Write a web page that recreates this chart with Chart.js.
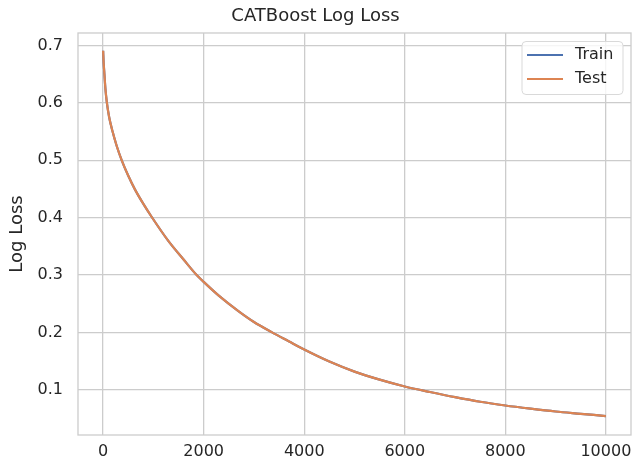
<!DOCTYPE html>
<html>
<head>
<meta charset="utf-8">
<script src="https://cdn.jsdelivr.net/npm/chart.js@4.4.1/dist/chart.umd.min.js"></script>
<style>
  body { margin: 0; background: #ffffff; }
  #wrap { width: 632px; height: 463px; position: relative; }
</style>
</head>
<body>
<div id="wrap"><canvas id="grafico"></canvas></div>
<script>
// valores (iteracao -> log loss)
const iteracoes = [0, 10, 25, 45, 75, 120, 185, 270, 370, 500, 640, 800, 960, 1300, 1600, 1860, 2000, 2300, 2690, 3000, 3360, 3690, 4000, 4500, 5000, 5500, 6000, 6500, 7000, 7500, 8000, 8500, 9000, 9500, 9999];
const perdaTeste = [0.691, 0.670, 0.651, 0.625, 0.600, 0.575, 0.551, 0.525, 0.500, 0.473, 0.448, 0.424, 0.402, 0.359, 0.327, 0.300, 0.288, 0.264, 0.237, 0.218, 0.200, 0.1845, 0.1700, 0.149, 0.1315, 0.1175, 0.1056, 0.096, 0.087, 0.079, 0.0725, 0.067, 0.062, 0.058, 0.054];
const perdaTreino = [0.691, 0.670, 0.651, 0.625, 0.600, 0.575, 0.551, 0.525, 0.500, 0.473, 0.448, 0.424, 0.402, 0.359, 0.327, 0.300, 0.288, 0.264, 0.237, 0.218, 0.200, 0.1845, 0.1700, 0.149, 0.1315, 0.1175, 0.1056, 0.096, 0.087, 0.079, 0.0725, 0.067, 0.062, 0.058, 0.054];
const ticksX = [0, 2000, 4000, 6000, 8000, 10000];
const ticksY = [0.1, 0.2, 0.3, 0.4, 0.5, 0.6, 0.7];

const corTexto = "#262626";
const corGrade = "#cccccc";
const fonte = "'DejaVu Sans', sans-serif";

function montaPontos(xs, ys) {
  return xs.map((x, i) => ({ x: x, y: ys[i] }));
}

// moldura da area do grafico
const moldura = {
  id: "moldura",
  beforeDatasetsDraw(chart) {
    const { ctx, chartArea } = chart;
    ctx.save();
    ctx.strokeStyle = corGrade;
    ctx.lineWidth = 1.3;
    ctx.strokeRect(chartArea.left, chartArea.top, chartArea.right - chartArea.left, chartArea.bottom - chartArea.top);
    ctx.restore();
  },
};

// legenda dentro da area, canto superior direito
const legendaInterna = {
  id: "legendaInterna",
  afterDraw(chart) {
    const { ctx, chartArea } = chart;
    const largura = 101, altura = 53;
    const x0 = chartArea.right - 8 - largura;
    const y0 = chartArea.top + 8.5;
    ctx.save();
    ctx.fillStyle = "rgba(255,255,255,0.8)";
    ctx.strokeStyle = "#d9d9d9";
    ctx.lineWidth = 1;
    ctx.beginPath();
    ctx.roundRect(x0, y0, largura, altura, 4);
    ctx.fill();
    ctx.stroke();
    ctx.font = "16px " + fonte;
    ctx.textBaseline = "middle";
    chart.data.datasets.forEach((ds, i) => {
      const y = y0 + 13.5 + i * 24;
      ctx.strokeStyle = ds.borderColor;
      ctx.lineWidth = 2.2;
      ctx.beginPath();
      ctx.moveTo(x0 + 5, y);
      ctx.lineTo(x0 + 41, y);
      ctx.stroke();
      ctx.fillStyle = corTexto;
      ctx.fillText(ds.label, x0 + 53, y);
    });
    ctx.restore();
  },
};

const grafico = new Chart(document.getElementById("grafico"), {
  type: "line",
  data: {
    datasets: [
      {
        label: "Train",
        data: montaPontos(iteracoes, perdaTreino),
        borderColor: "#4c72b0",
        borderWidth: 2.2,
        pointRadius: 0,
        cubicInterpolationMode: "monotone",
        order: 1,
      },
      {
        label: "Test",
        data: montaPontos(iteracoes, perdaTeste),
        borderColor: "#dd8452",
        borderWidth: 2.2,
        pointRadius: 0,
        cubicInterpolationMode: "monotone",
        order: 0,
      },
    ],
  },
  options: {
    responsive: true,
    maintainAspectRatio: false,
    animation: false,
    layout: { padding: { left: 0, right: 1, top: 0, bottom: 0 } },
    plugins: {
      legend: { display: false },
      tooltip: { enabled: false },
      title: {
        display: true,
        text: "CATBoost Log Loss",
        color: corTexto,
        font: { family: fonte, size: 18, weight: "normal" },
        padding: { top: 6, bottom: 5.4 },
      },
    },
    scales: {
      x: {
        type: "linear",
        min: -500,
        max: 10499.5,
        afterBuildTicks: (escala) => {
          escala.ticks = ticksX.map((v) => ({ value: v }));
        },
        afterFit: (escala) => {
          escala.height = 28;
          escala.paddingLeft = 0;
          escala.paddingRight = 0;
        },
        grid: { color: corGrade, lineWidth: 1.3, drawTicks: false },
        border: { display: false },
        ticks: {
          color: corTexto,
          font: { family: fonte, size: 16 },
          padding: 7,
          maxRotation: 0,
          callback: (v) => String(v),
        },
      },
      y: {
        min: 0.021,
        max: 0.722,
        afterBuildTicks: (escala) => {
          escala.ticks = ticksY.map((v) => ({ value: v }));
        },
        afterFit: (escala) => {
          escala.width = 78;
          escala.paddingTop = 0;
          escala.paddingBottom = 0;
        },
        grid: { color: corGrade, lineWidth: 1.3, drawTicks: false },
        border: { display: false },
        title: {
          display: true,
          text: "Log Loss",
          color: corTexto,
          font: { family: fonte, size: 18 },
          padding: { top: 7, bottom: 0 },
        },
        ticks: {
          color: corTexto,
          font: { family: fonte, size: 16 },
          padding: 15,
          callback: (v) => v.toFixed(1),
        },
      },
    },
  },
  plugins: [moldura, legendaInterna],
});
</script>
</body>
</html>
